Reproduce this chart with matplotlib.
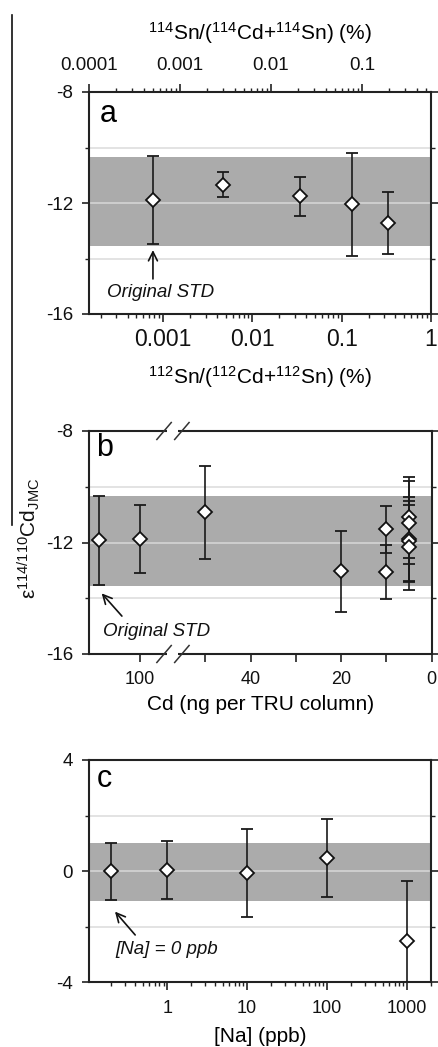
import numpy as np
import matplotlib
matplotlib.use("Agg")
import matplotlib.pyplot as plt
from matplotlib.ticker import FixedLocator, LogLocator, NullFormatter, MultipleLocator
from matplotlib.lines import Line2D
from matplotlib.patches import Rectangle

plt.rcParams['font.family'] = ['Liberation Sans', 'DejaVu Sans']
plt.rcParams['mathtext.default'] = 'regular'
plt.rcParams['axes.unicode_minus'] = False

# ---------------- data ----------------
# panel a: Sn/(Cd+Sn) (%) vs epsilon
a_x = [0.00077, 0.0047, 0.034, 0.13, 0.33]
a_y = [-11.89, -11.35, -11.76, -12.05, -12.72]
a_err = [1.6, 0.45, 0.7, 1.85, 1.12]
a_band = (-13.55, -10.33)

# panel b: Cd (ng per TRU column) vs epsilon
b_x = [109, 100, 50, 20, 10, 10, 5, 5, 5, 5, 5]
b_y = [-11.92, -11.89, -10.91, -13.03, -11.53, -13.06, -11.10, -11.29, -11.88, -11.95, -12.17]
b_err = [1.6, 1.22, 1.67, 1.46, 0.83, 0.96, 1.45, 1.49, 1.5, 1.45, 1.53]
b_band = (-13.55, -10.33)
b_ticks = [100, 50, 40, 30, 20, 10, 0]
b_ticklabels = ['100', '', '40', '', '20', '', '0']

# panel c: [Na] (ppb) vs epsilon
c_x = [0.2, 1, 10, 100, 1000]
c_y = [-0.01, 0.04, -0.07, 0.46, -2.51]
c_err = [1.03, 1.04, 1.58, 1.4, 2.15]
c_band = (-1.08, 1.03)

top_ticks = [1e-4, 1e-3, 1e-2, 1e-1]
top_ticklabels = ['0.0001', '0.001', '0.01', '0.1']
bot_ticks_a = [1e-3, 1e-2, 1e-1, 1]
bot_ticklabels_a = ['0.001', '0.01', '0.1', '1']
c_ticks = [1, 10, 100, 1000]
c_ticklabels = ['1', '10', '100', '1000']

# ---------------- style ----------------
W, H = 438, 1047
fig = plt.figure(figsize=(W / 100, H / 100), dpi=100)
SPINE = '#222222'
BAND = '#ababab'
GRID = '#dadada'

def frac_box(l, t, r, b):
    return [l / W, 1 - b / H, (r - l) / W, (b - t) / H]

def style_axis(ax, ylims, ymaj, ymin):
    ax.set_ylim(*ylims)
    ax.yaxis.set_major_locator(MultipleLocator(ymaj))
    ax.yaxis.set_minor_locator(MultipleLocator(ymin))
    for s in ax.spines.values():
        s.set_color(SPINE)
        s.set_linewidth(1.5)
    ax.tick_params(axis='y', which='major', direction='out', length=5, width=1.2,
                   colors=SPINE, labelcolor='#111111', labelsize=13.5, pad=6.5, right=True)
    ax.tick_params(axis='y', which='minor', direction='out', length=3, width=1.0,
                   colors=SPINE, right=True)
    ax.set_axisbelow(True)
    ax.grid(axis='y', which='both', color=GRID, lw=1.4, alpha=0.75)
    ax.grid(axis='x', visible=False)

def draw_points(ax, x, y, e):
    ax.errorbar(x, y, yerr=e, fmt='D', ms=7.5, mfc='white', mec='#111111', mew=1.3,
                ecolor='#1a1a1a', elinewidth=1.2, capsize=4, capthick=1.2, zorder=3)

# ---------------- panel a ----------------
axa = fig.add_axes(frac_box(89, 92, 431, 314))
style_axis(axa, (-16, -8), 4, 2)
axa.axhspan(*a_band, color=BAND, zorder=0.3, lw=0)
draw_points(axa, a_x, a_y, a_err)
axa.set_xscale('log')
axa.set_xlim(1.48e-4, 1)
axa.set_xticks(bot_ticks_a, labels=bot_ticklabels_a)
axa.xaxis.set_minor_locator(LogLocator(base=10, subs=np.arange(2, 10)))
axa.xaxis.set_minor_formatter(NullFormatter())
axa.tick_params(axis='x', which='major', direction='out', length=6, width=1.2,
                colors=SPINE, labelcolor='#111111', labelsize=16.5, pad=4)
axa.tick_params(axis='x', which='minor', direction='out', length=3, width=1.0, colors=SPINE)
axa.set_xlabel('$^{112}$Sn/($^{112}$Cd+$^{112}$Sn) (%)', fontsize=15, labelpad=9.5)

axt = axa.twiny()
axt.set_xscale('log')
axt.set_xlim(1e-4, 0.573)
axt.set_xticks(top_ticks, labels=top_ticklabels)
axt.xaxis.set_minor_locator(LogLocator(base=10, subs=np.arange(2, 10)))
axt.xaxis.set_minor_formatter(NullFormatter())
axt.tick_params(axis='x', which='major', direction='out', length=6, width=1.2,
                colors=SPINE, labelcolor='#111111', labelsize=13.5, pad=7)
axt.tick_params(axis='x', which='minor', direction='out', length=3, width=1.0, colors=SPINE)
for s in axt.spines.values():
    s.set_visible(False)
axt.set_xlabel('$^{114}$Sn/($^{114}$Cd+$^{114}$Sn) (%)', fontsize=15, labelpad=12)

axa.text(0.032, 0.866, 'a', transform=axa.transAxes, fontsize=22, va='baseline', ha='left')
axa.annotate('', xy=(0.187, 0.288), xytext=(0.187, 0.158), xycoords='axes fraction',
             textcoords='axes fraction',
             arrowprops=dict(arrowstyle='->', lw=1.2, color='#111111', shrinkA=0, shrinkB=0,
                             mutation_scale=16))
axa.text(0.053, 0.099, 'Original STD', transform=axa.transAxes, fontsize=13.5,
         style='italic', va='center', ha='left', color='#111111')

# ---------------- panel b ----------------
BRK_LO, BRK_HI = 56.0, 91.5
SHIFT = BRK_HI - BRK_LO

def fwd(v):
    v = np.asarray(v, dtype=float)
    return np.where(v <= BRK_LO, v, np.where(v >= BRK_HI, v - SHIFT, BRK_LO))

def inv(u):
    u = np.asarray(u, dtype=float)
    return np.where(u <= BRK_LO, u, u + SHIFT)

axb = fig.add_axes(frac_box(89, 431, 431.7, 654))
style_axis(axb, (-16, -8), 4, 2)
axb.axhspan(*b_band, color=BAND, zorder=0.3, lw=0)
axb.set_xscale('function', functions=(fwd, inv))
draw_points(axb, b_x, b_y, b_err)
axb.set_xlim(111.2, 0)
axb.set_xticks(b_ticks, labels=b_ticklabels)
axb.xaxis.set_minor_locator(FixedLocator([]))
axb.tick_params(axis='x', which='major', direction='out', length=6, width=1.2,
                colors=SPINE, labelcolor='#111111', labelsize=13, pad=6)
axb.set_xlabel('Cd (ng per TRU column)', fontsize=15, labelpad=5)

# axis break marks
for yb in (0.0, 1.0):
    axb.add_patch(Rectangle((0.229, yb - 0.012), 0.032, 0.024, transform=axb.transAxes,
                            facecolor='white', edgecolor='none', clip_on=False, zorder=5))
    for xc in (0.219, 0.271):
        axb.add_line(Line2D([xc - 0.021, xc + 0.021], [yb - 0.038, yb + 0.038],
                            transform=axb.transAxes, color='#333333', lw=1.1,
                            clip_on=False, zorder=6))

axb.text(0.022, 0.888, 'b', transform=axb.transAxes, fontsize=22, va='baseline', ha='left')
axb.annotate('', xy=(0.037, 0.272), xytext=(0.096, 0.170), xycoords='axes fraction',
             textcoords='axes fraction',
             arrowprops=dict(arrowstyle='->', lw=1.2, color='#111111', shrinkA=0, shrinkB=0,
                             mutation_scale=16))
axb.text(0.041, 0.099, 'Original STD', transform=axb.transAxes, fontsize=13.5,
         style='italic', va='center', ha='left', color='#111111')

# ---------------- panel c ----------------
axc = fig.add_axes(frac_box(89, 760, 431, 982.3))
style_axis(axc, (-4, 4), 4, 2)
axc.axhspan(*c_band, color=BAND, zorder=0.3, lw=0)
draw_points(axc, c_x, c_y, c_err)
axc.set_xscale('log')
axc.set_xlim(0.105, 2000)
axc.set_xticks(c_ticks, labels=c_ticklabels)
axc.xaxis.set_minor_locator(LogLocator(base=10, subs=np.arange(2, 10)))
axc.xaxis.set_minor_formatter(NullFormatter())
axc.tick_params(axis='x', which='major', direction='out', length=6, width=1.2,
                colors=SPINE, labelcolor='#111111', labelsize=13, pad=7)
axc.tick_params(axis='x', which='minor', direction='out', length=3, width=1.0, colors=SPINE)
axc.set_xlabel('[Na] (ppb)', fontsize=15, labelpad=7)

axc.text(0.024, 0.879, 'c', transform=axc.transAxes, fontsize=22, va='baseline', ha='left')
axc.annotate('', xy=(0.076, 0.318), xytext=(0.135, 0.213), xycoords='axes fraction',
             textcoords='axes fraction',
             arrowprops=dict(arrowstyle='->', lw=1.2, color='#111111', shrinkA=0, shrinkB=0,
                             mutation_scale=16))
axc.text(0.076, 0.147, '[Na] = 0 ppb', transform=axc.transAxes, fontsize=13.5,
         style='italic', va='center', ha='left', color='#111111')

# ---------------- shared y label and left rule ----------------
fig.text(29 / W, 1 - 538 / H, 'ε$^{114/110}$Cd$_{JMC}$', rotation=90, fontsize=15,
         ha='center', va='center', color='#111111')
fig.add_artist(Line2D([12 / W, 12 / W], [1 - 15 / H, 1 - 525 / H], transform=fig.transFigure,
                      color='#111111', lw=1.2))

fig.savefig('out.png', dpi=100)
